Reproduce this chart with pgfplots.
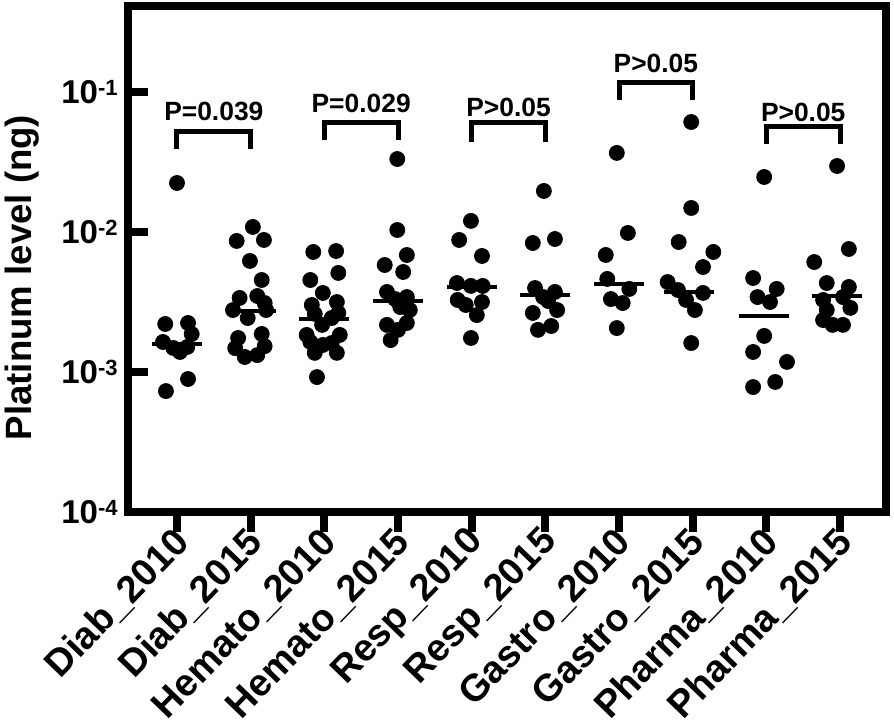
\documentclass[border=0pt]{standalone}
\usepackage{fontspec}
\setmainfont{Liberation Sans}
\usepackage{pgfplots}
\pgfplotsset{compat=1.18}
\newcommand{\tenpow}[1]{10\smash{\raisebox{4pt}{\fontsize{11}{11}\selectfont #1}}}
\pgfplotsset{dots/.style={only marks, mark=*, mark size=3.75pt, black, mark options={fill=black, draw=none}}}
\begin{document}
\begin{tikzpicture}
\begin{axis}[
  width=379pt, height=253pt, scale only axis,
  ymode=log, ymin=1e-4, ymax=0.411,
  xmin=-0.665, xmax=9.624,
  xtick={0,1,2,3,4,5,6,7,8,9},
  xticklabels={Diab\_2010,Diab\_2015,Hemato\_2010,Hemato\_2015,Resp\_2010,Resp\_2015,Gastro\_2010,Gastro\_2015,Pharma\_2010,Pharma\_2015},
  ytick={1e-4,1e-3,1e-2,1e-1},
  yticklabels={\tenpow{-4},\tenpow{-3},\tenpow{-2},\tenpow{-1}},
  yminorticks=false, xminorticks=false,
  xtick align=outside, ytick align=inside,
  major tick length=10pt,
  tick style={line width=4pt, black},
  axis line style={line width=4pt},
  tick pos=left,
  clip=false,
  xticklabel style={font=\bfseries\fontsize{19}{19}\selectfont, yshift=-2pt, xshift=3pt, rotate=46, anchor=east, inner sep=0pt},
  yticklabel style={font=\bfseries\fontsize{16.5}{16.5}\selectfont, anchor=east, inner sep=0pt, xshift=-5pt},
]
\coordinate (bl) at (rel axis cs:0,0);
\coordinate (tr) at (rel axis cs:1,1);
\coordinate (lm) at (rel axis cs:0,0.5);
% Diab_2010
\addplot[dots] coordinates {(0.00,0.02239) (-0.16,0.002203) (0.15,0.002239) (0.20,0.001868) (-0.19,0.001638) (-0.05,0.001484) (0.04,0.00139) (0.14,0.00151) (0.15,0.000891) (-0.15,0.000731)};
% Diab_2015
\addplot[dots] coordinates {(1.03,0.01086) (0.81,0.00863) (1.18,0.00877) (0.99,0.00621) (1.15,0.00454) (0.85,0.00338) (1.09,0.00349) (1.19,0.00311) (0.76,0.00277) (0.96,0.00243) (1.21,0.00277) (0.83,0.00175) (1.15,0.00187) (0.79,0.00148) (1.19,0.00153) (0.92,0.00128) (1.09,0.00132)};
% Hemato_2010
\addplot[dots] coordinates {(1.85,0.00720) (2.16,0.00731) (1.81,0.00454) (2.19,0.00510) (1.98,0.00367) (1.83,0.00301) (2.17,0.00316) (1.87,0.00260) (2.19,0.00264) (1.97,0.00217) (2.10,0.00243) (1.76,0.00184) (2.21,0.00184) (1.81,0.00164) (2.10,0.00161) (1.87,0.00137) (2.17,0.00137) (1.98,0.00156) (1.90,0.00092)};
% Hemato_2015
\addplot[dots] coordinates {(2.99,0.0332) (2.99,0.01033) (3.12,0.00685) (2.82,0.00581) (3.07,0.00518) (2.85,0.00373) (3.12,0.00343) (2.96,0.00332) (3.03,0.00291) (3.16,0.00277) (2.85,0.00217) (3.12,0.00224) (3.00,0.00200) (2.90,0.00169)};
% Resp_2010
\addplot[dots] coordinates {(3.99,0.0120) (3.83,0.00877) (4.14,0.00674) (3.80,0.00432) (3.99,0.00412) (4.15,0.00412) (3.81,0.00327) (3.92,0.00301) (4.14,0.00316) (4.07,0.00255) (3.99,0.00175)};
% Resp_2015
\addplot[dots] coordinates {(4.98,0.01963) (4.83,0.00834) (5.13,0.00891) (4.86,0.00398) (5.13,0.00373) (4.97,0.00343) (5.04,0.00321) (4.83,0.00264) (5.16,0.00277) (4.90,0.00200) (5.08,0.00213)};
% Gastro_2010
\addplot[dots] coordinates {(5.97,0.0367) (6.12,0.00984) (5.82,0.00685) (5.84,0.00462) (6.14,0.00392) (5.89,0.00332) (6.05,0.00311) (5.97,0.00206)};
% Gastro_2015
\addplot[dots] coordinates {(6.98,0.0610) (6.98,0.01484) (6.81,0.00848) (7.28,0.00720) (7.14,0.00562) (6.66,0.00439) (6.80,0.00385) (7.14,0.00367) (6.91,0.00327) (7.03,0.00277) (6.98,0.00161)};
% Pharma_2010
\addplot[dots] coordinates {(7.97,0.0247) (7.82,0.00469) (8.14,0.00392) (7.88,0.00343) (8.05,0.00316) (7.97,0.00181) (7.82,0.00139) (8.28,0.00118) (8.12,0.000849) (7.82,0.000781)};
% Pharma_2015
\addplot[dots] coordinates {(8.96,0.0296) (9.12,0.00756) (8.65,0.00610) (8.82,0.00432) (9.12,0.00405) (8.77,0.00327) (9.04,0.00343) (9.14,0.00287) (8.82,0.00277) (8.77,0.00235) (8.90,0.00217) (9.04,0.00217)};
% medians
\addplot[only marks, mark=-, mark size=12.5pt, mark options={draw=black, line width=2pt}] coordinates {(0,0.001585) (1,0.00273) (2,0.00239) (3,0.00322) (4,0.00405) (5,0.00355) (6,0.00425) (6.95,0.00375) (7.97,0.00251) (8.96,0.00349)};
% brackets
\begin{scope}[line width=2.5pt, line join=miter]
\draw (axis cs:0,0.0392) -- (axis cs:0,0.0526) -- (axis cs:1,0.0526) -- (axis cs:1,0.0392);
\draw (axis cs:2,0.0454) -- (axis cs:2,0.0610) -- (axis cs:3,0.0610) -- (axis cs:3,0.0454);
\draw (axis cs:4,0.0440) -- (axis cs:4,0.0601) -- (axis cs:5,0.0601) -- (axis cs:5,0.0440);
\draw (axis cs:6,0.0877) -- (axis cs:6,0.116) -- (axis cs:7,0.116) -- (axis cs:7,0.0877);
\draw (axis cs:8,0.0425) -- (axis cs:8,0.0562) -- (axis cs:9,0.0562) -- (axis cs:9,0.0425);
\end{scope}
\begin{scope}[every node/.style={font=\bfseries\fontsize{13.2}{13.2}\selectfont, inner sep=0pt}]
\node at (axis cs:0.5,0.0732) {P=0.039};
\node at (axis cs:2.5,0.0834) {P=0.029};
\node at (axis cs:4.5,0.0781) {P>0.05};
\node at (axis cs:6.5,0.161) {P>0.05};
\node at (axis cs:8.5,0.0720) {P>0.05};
\end{scope}
\end{axis}
\node[rotate=90, anchor=north, inner sep=0pt, font=\bfseries\fontsize{18.3}{18.3}\selectfont] at ([xshift=-61.5pt,yshift=-9.25pt]lm) {Platinum level (ng)};
\pgfresetboundingbox
\useasboundingbox ([xshift=-64pt,yshift=-106pt]bl) rectangle ([xshift=4pt,yshift=3pt]tr);
\end{tikzpicture}
\end{document}
